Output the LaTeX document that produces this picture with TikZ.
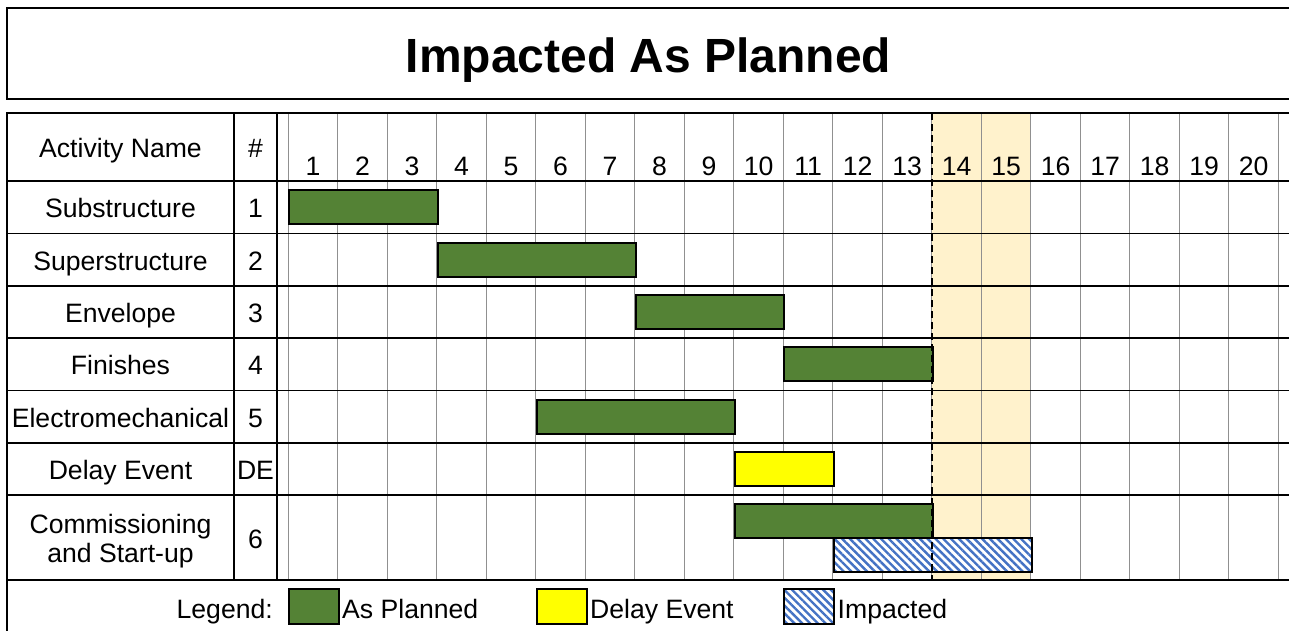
\documentclass[tikz,border=0pt]{standalone}
\usepackage{fontspec}
\setmainfont{Liberation Sans}
\usetikzlibrary{patterns.meta}

\definecolor{planned}{HTML}{548235}
\definecolor{delayfill}{HTML}{FFFF00}
\definecolor{hatchblue}{HTML}{4472C4}
\definecolor{windowfill}{HTML}{FFF2CC}
\definecolor{gridgray}{HTML}{909090}

\begin{document}
\begin{tikzpicture}[x=1pt,y=-1pt,
  txt/.style={font=\fontsize{26.6}{29}\selectfont, inner sep=0pt},
  titletxt/.style={font=\fontsize{48}{56}\selectfont\bfseries, inner sep=0pt},
  bar/.style={draw=black, line width=2pt, inner sep=0pt, minimum height=34pt, anchor=west},
  plannedbar/.style={bar, fill=planned},
  delaybar/.style={bar, fill=delayfill},
  impactbar/.style={bar, pattern={Lines[angle=-45,distance=5.5pt,line width=2.4pt]}, pattern color=hatchblue},
  legendbox/.style={draw=black, line width=2pt, inner sep=0pt, minimum width=50pt, minimum height=35pt, anchor=west},
  frame/.style={line width=2pt, black},
  rowline/.style={line width=1.2pt, black},
  gridline/.style={line width=1pt, gridgray},
]
\useasboundingbox (0,0) rectangle (1289,630);

% column geometry of the time scale
\def\xo{288.3}
\def\cw{49.5}

% title box
\draw[frame] (1295,8) -- (7,8) -- (7,99) -- (1295,99);
\node[titletxt, anchor=base] (title) at (648.5,72) {Impacted As Planned};

% shaded window for periods 14-15
\fill[windowfill] ({\xo+13*\cw},113) rectangle ({\xo+15*\cw},580);

% vertical period grid
\foreach \k in {0,...,20}
  \draw[gridline] ({\xo+\k*\cw},113) -- ({\xo+\k*\cw},580);

% row separators
\foreach \y in {233.5,286,338,390.5,443,495}
  \draw[rowline] (7,\y) -- (1289,\y);
\draw[line width=1.6pt] (7,181) -- (1289,181);

% table frame
\draw[frame] (1289,113) -- (7,113) -- (7,640);
\draw[frame] (7,580) -- (1289,580);
\draw[frame] (234,113) -- (234,580);
\draw[frame] (277,113) -- (277,580);

% header
\node[txt, anchor=base] (hname) at (120.5,157) {Activity Name};
\node[txt, anchor=base] (hnum) at (255.5,157) {\#};
\foreach \k in {1,...,20}
  \node[txt, anchor=base] (p\k) at ({\xo+(\k-0.5)*\cw},175) {\k};

% activity rows
\node[txt, anchor=base] (n1) at (120.5,217.5) {Substructure};
\node[txt, anchor=base] (i1) at (255.5,217.5) {1};
\node[txt, anchor=base] (n2) at (120.5,270) {Superstructure};
\node[txt, anchor=base] (i2) at (255.5,270) {2};
\node[txt, anchor=base] (n3) at (120.5,322.5) {Envelope};
\node[txt, anchor=base] (i3) at (255.5,322.5) {3};
\node[txt, anchor=base] (n4) at (120.5,374.7) {Finishes};
\node[txt, anchor=base] (i4) at (255.5,374.7) {4};
\node[txt, anchor=base] (n5) at (120.5,427.2) {Electromechanical};
\node[txt, anchor=base] (i5) at (255.5,427.2) {5};
\node[txt, anchor=base] (n6) at (120.5,479.5) {Delay Event};
\node[txt, anchor=base] (i6) at (255.5,479.5) {DE};
\node[txt, anchor=base] (n7a) at (120.5,533) {Commissioning};
\node[txt, anchor=base] (n7b) at (120.5,562) {and Start-up};
\node[txt, anchor=base] (i7) at (255.5,548) {6};

% bars
\node[plannedbar, minimum width={3*\cw}] (b1) at ({\xo},207) {};
\node[plannedbar, minimum width={4*\cw}] (b2) at ({\xo+3*\cw},259.5) {};
\node[plannedbar, minimum width={3*\cw}] (b3) at ({\xo+7*\cw},312) {};
\node[plannedbar, minimum width={3*\cw}] (b4) at ({\xo+10*\cw},364) {};
\node[plannedbar, minimum width={4*\cw}] (b5) at ({\xo+5*\cw},416.5) {};
\node[delaybar,   minimum width={2*\cw}] (de) at ({\xo+9*\cw},469) {};
\node[plannedbar, minimum width={4*\cw}] (b6) at ({\xo+9*\cw},520.5) {};
\node[impactbar,  minimum width={4*\cw}, fill=white] (im) at ({\xo+11*\cw},555) {};
\node[impactbar,  minimum width={4*\cw}] (im2) at ({\xo+11*\cw},555) {};

% planned completion marker
\draw[line width=1.6pt, dash pattern=on 7pt off 4pt] ({\xo+13*\cw},113) -- ({\xo+13*\cw},580);

% legend
\node[txt, anchor=base east] (lg) at (273,618) {Legend:};
\node[legendbox, fill=planned] (lgp) at (287.5,606.5) {};
\node[txt, anchor=base west] (lgpt) at (342,618) {As Planned};
\node[legendbox, fill=delayfill] (lgd) at (536,606.5) {};
\node[txt, anchor=base west] (lgdt) at (590,618) {Delay Event};
\node[legendbox, fill=white] (lgi) at (783,606.5) {};
\node[legendbox, pattern={Lines[angle=-45,distance=5.5pt,line width=2.4pt]}, pattern color=hatchblue] (lgi2) at (783,606.5) {};
\node[txt, anchor=base west] (lgit) at (837.5,618) {Impacted};
\end{tikzpicture}
\end{document}
